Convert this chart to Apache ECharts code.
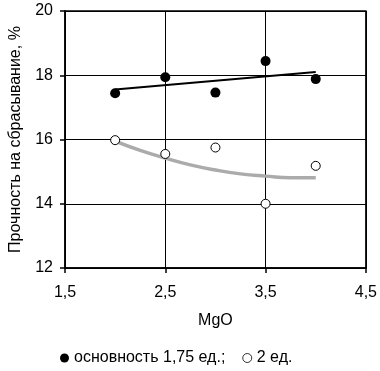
<!DOCTYPE html>
<html><head><meta charset="utf-8">
<script src="https://cdn.jsdelivr.net/npm/echarts@6/dist/echarts.min.js"></script>
<style>html,body{margin:0;padding:0;background:#fff}#c{width:380px;height:371px}</style>
</head><body><div id="c"></div>
<script>
const mgo = [2, 2.5, 3, 3.5, 4];
const basicity175 = [17.44, 17.94, 17.46, 18.44, 17.88];
const basicity2 = [15.98, 15.55, 15.75, 14.0, 15.18];
const trend175X = [2, 4];
const trend175Y = [17.56, 18.1];
const trend2X = [2, 2.25, 2.5, 2.75, 3, 3.25, 3.5, 3.75, 4];
const trend2Y = [15.95, 15.66, 15.42, 15.21, 15.05, 14.93, 14.86, 14.81, 14.81];
const xTicks = [1.5, 2.5, 3.5, 4.5];
const yTicks = [12, 14, 16, 18, 20];
const names = ['основность 1,75 ед.;', '2 ед.'];

const zip = (a, b) => a.map((v, i) => [v, b[i]]);
const font = 'Liberation Sans, Arial, sans-serif';
const chart = echarts.init(document.getElementById('c'), null, {renderer: 'canvas'});
chart.setOption({
  animation: false,
  textStyle: {fontFamily: font},
  grid: {left: 63, right: 13, top: 11, bottom: 103, show: true, borderColor: '#000', borderWidth: 1.5},
  xAxis: {
    type: 'value', min: xTicks[0], max: xTicks[xTicks.length - 1], interval: 1,
    name: 'MgO', nameLocation: 'middle', nameGap: 45,
    nameTextStyle: {color: '#000', fontSize: 16, fontFamily: font},
    axisLine: {lineStyle: {color: '#000', width: 1.5}},
    axisTick: {show: true, length: 5, lineStyle: {color: '#000', width: 1.5}},
    axisLabel: {color: '#000', fontSize: 16, margin: 17, fontFamily: font,
      formatter: v => String(v).replace('.', ',')},
    splitLine: {show: true, lineStyle: {color: '#000', width: 1}}
  },
  yAxis: {
    type: 'value', min: yTicks[0], max: yTicks[yTicks.length - 1], interval: 2,
    name: 'Прочность на сбрасывание, %', nameLocation: 'middle', nameGap: 41,
    nameTextStyle: {color: '#000', fontSize: 16, fontFamily: font},
    axisLine: {show: true, lineStyle: {color: '#000', width: 1.5}},
    axisTick: {show: true, length: 5, lineStyle: {color: '#000', width: 1.5}},
    axisLabel: {color: '#000', fontSize: 16, margin: 12, fontFamily: font},
    splitLine: {show: true, lineStyle: {color: '#000', width: 1}}
  },
  legend: {
    left: 55, top: 345, itemGap: 17, itemWidth: 9, itemHeight: 9,
    textStyle: {color: '#000', fontSize: 16, fontFamily: font},
    data: [
      {name: names[0], icon: 'circle', itemStyle: {color: '#000'}},
      {name: names[1], icon: 'circle', itemStyle: {color: '#fff', borderColor: '#000', borderWidth: 0.8}}
    ]
  },
  series: [
    {type: 'line', data: zip(trend2X, trend2Y), smooth: true, symbol: 'none',
      lineStyle: {color: '#ababab', width: 3.5}, z: 2, silent: true},
    {type: 'line', data: zip(trend175X, trend175Y), symbol: 'none',
      lineStyle: {color: '#000', width: 2}, z: 2, silent: true},
    {name: names[0], type: 'scatter', data: zip(mgo, basicity175), symbol: 'circle', symbolSize: 10,
      itemStyle: {color: '#000', opacity: 1}, z: 5},
    {name: names[1], type: 'scatter', data: zip(mgo, basicity2), symbol: 'circle', symbolSize: 9,
      itemStyle: {color: '#fff', borderColor: '#000', borderWidth: 1, opacity: 1}, z: 5}
  ]
});
</script></body></html>
